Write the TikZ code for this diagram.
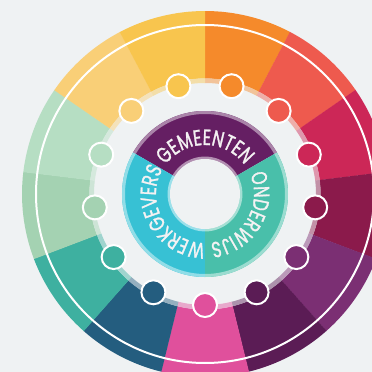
\documentclass[tikz,border=0pt]{standalone}
\usepackage{fontspec}
\newfontfamily\ringfont[FakeStretch=0.74,FakeBold=1.2]{Poppins}
\usetikzlibrary{decorations.text}
\definecolor{bg}{HTML}{EFF2F3}
\definecolor{cA}{HTML}{F58A2B}
\definecolor{cB}{HTML}{EE5A4E}
\definecolor{cC}{HTML}{CC2757}
\definecolor{cD}{HTML}{8B1A4B}
\definecolor{cE}{HTML}{7B2F73}
\definecolor{cF}{HTML}{5B1C55}
\definecolor{cG}{HTML}{E0509C}
\definecolor{cH}{HTML}{245D7F}
\definecolor{cI}{HTML}{3EB0A0}
\definecolor{cJ}{HTML}{A4D2B2}
\definecolor{cK}{HTML}{B6DEC3}
\definecolor{cL}{HTML}{F9CF77}
\definecolor{cM}{HTML}{F8C54E}
\definecolor{gem}{HTML}{651F63}
\definecolor{ond}{HTML}{49BFAA}
\definecolor{werk}{HTML}{37C1D4}
\definecolor{txt}{HTML}{F4F2F3}
\tikzset{
  dot/.style={circle, draw=white, line width=2pt, minimum size=24pt, inner sep=0pt},
  ringtext/.style={decorate, decoration={text along path, text align=center, text={|\ringfont\fontsize{22}{22}\selectfont\color{txt}|#1}}}
}
\begin{document}
\begin{tikzpicture}[x=1pt,y=1pt]
\useasboundingbox (-205,-178) rectangle (167,194);
\fill[bg] (-205,-178) rectangle (167,194);
% outer wedges
\foreach \c [count=\i from 0] in {cA,cB,cC,cD,cE,cF,cG,cH,cI,cJ,cK,cL,cM}{
  \pgfmathsetmacro\a{76.1538-27.6923*\i}
  \pgfmathsetmacro\s{\a-13.9}
  \pgfmathsetmacro\e{\a+13.9}
  \fill[\c] (\s:115.5) arc[start angle=\s,end angle=\e,radius=115.5] -- (\e:183) arc[start angle=\e,end angle=\s,radius=183] -- cycle;
  \fill[\c!45!bg] (\s:111) arc[start angle=\s,end angle=\e,radius=111] -- (\e:115.6) arc[start angle=\e,end angle=\s,radius=115.6] -- cycle;
}
\draw[white, line width=2pt] (0,0) circle (169);
% dots
\foreach \c [count=\i from 0] in {cA,cB,cC,cD,cE,cF,cG,cH,cI,cJ,cK,cL,cM}{
  \pgfmathsetmacro\a{76.1538-27.6923*\i}
  \node[dot, fill=\c] (d\i) at (\a:111) {};
}
% inner ring
\fill[gem] (30:35) arc[start angle=30,end angle=150,radius=35] -- (150:83) arc[start angle=150,end angle=30,radius=83] -- cycle;
\fill[ond] (-90:35) arc[start angle=-90,end angle=30,radius=35] -- (30:83) arc[start angle=30,end angle=-90,radius=83] -- cycle;
\fill[werk] (150:35) arc[start angle=150,end angle=270,radius=35] -- (270:83) arc[start angle=270,end angle=150,radius=83] -- cycle;
\draw[gem!55!white, line width=3pt] (30:81.5) arc[start angle=30,end angle=150,radius=81.5];
\draw[ond!55!white, line width=3pt] (-90:81.5) arc[start angle=-90,end angle=30,radius=81.5];
\draw[werk!55!white, line width=3pt] (150:81.5) arc[start angle=150,end angle=270,radius=81.5];
\draw[gem!50!white, line width=2.5pt] (30:36.2) arc[start angle=30,end angle=150,radius=36.2];
\draw[ond!50!white, line width=2.5pt] (-90:36.2) arc[start angle=-90,end angle=30,radius=36.2];
\draw[werk!50!white, line width=2.5pt] (150:36.2) arc[start angle=150,end angle=270,radius=36.2];
\fill[bg] (0,0) circle (35);
% labels
\path[ringtext=GEMEENTEN] (165:49) arc[start angle=165,end angle=15,radius=49];
\path[ringtext=ONDERWIJS] (45:49) arc[start angle=45,end angle=-105,radius=49];
\path[ringtext=WERKGEVERS] (285:49) arc[start angle=285,end angle=135,radius=49];
\end{tikzpicture}
\end{document}
